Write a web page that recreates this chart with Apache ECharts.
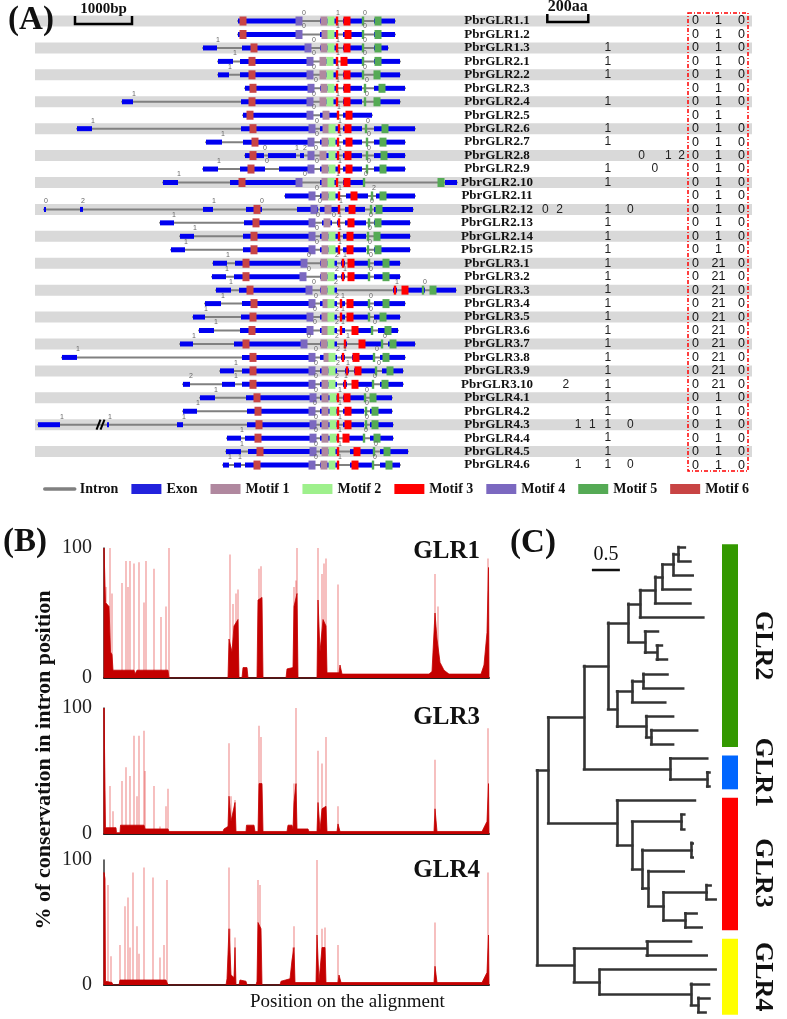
<!DOCTYPE html>
<html><head><meta charset="utf-8">
<script src="https://cdn.jsdelivr.net/npm/echarts@6/dist/echarts.min.js"></script>
<style>html,body{margin:0;padding:0;background:#fff}#c{width:787px;height:1019px}</style>
</head><body><div id="c"></div>
<script>
// ---------------- DATA ----------------
const geneNames = ['PbrGLR1.1','PbrGLR1.2','PbrGLR1.3',
 'PbrGLR2.1','PbrGLR2.2','PbrGLR2.3','PbrGLR2.4','PbrGLR2.5','PbrGLR2.6','PbrGLR2.7','PbrGLR2.8','PbrGLR2.9','PbrGLR2.10','PbrGLR2.11','PbrGLR2.12','PbrGLR2.13','PbrGLR2.14','PbrGLR2.15',
 'PbrGLR3.1','PbrGLR3.2','PbrGLR3.3','PbrGLR3.4','PbrGLR3.5','PbrGLR3.6','PbrGLR3.7','PbrGLR3.8','PbrGLR3.9','PbrGLR3.10',
 'PbrGLR4.1','PbrGLR4.2','PbrGLR4.3','PbrGLR4.4','PbrGLR4.5','PbrGLR4.6'];

// gene structure positions (units: 1000 bp = 57 units)
const geneExons = [
 [[238,302],[320,338],[343,362],[374,395]],
 [[238,302],[320,338],[343,362],[374,395]],
 [[203,217],[242,311],[320,338],[343,362],[374,388]],
 [[218,233],[240,311],[320,338],[342,362],[374,400]],
 [[218,229],[240,311],[320,338],[343,362],[374,400]],
 [[245,312],[320,338],[343,362],[374,405]],
 [[122,133],[241,311],[320,338],[343,362],[374,400]],
 [[243,311],[320,338],[343,372]],
 [[77,92],[241,311],[320,338],[343,362],[374,415]],
 [[206,222],[243,311],[320,338],[343,362],[374,405]],
 [[245,264],[268,296],[300,304],[308,313],[320,338],[343,362],[374,405]],
 [[203,218],[240,265],[279,312],[320,338],[343,362],[374,405]],
 [[163,178],[230,300],[320,338],[343,364],[445,457]],
 [[285,314],[320,338],[346,368],[376,415]],
 [[44,46],[80,83],[203,213],[246,262],[297,318],[320,338],[345,365],[374,413]],
 [[160,174],[244,313],[322,332],[337,340],[345,366],[374,410]],
 [[180,194],[243,313],[320,338],[343,366],[374,410]],
 [[171,185],[243,313],[320,338],[343,366],[374,410]],
 [[213,227],[235,306],[320,337],[341,345],[349,368],[374,400]],
 [[212,226],[234,305],[320,337],[341,345],[349,368],[374,400]],
 [[216,231],[239,308],[320,337],[393,397],[402,425],[430,456]],
 [[205,221],[242,312],[320,337],[341,345],[349,368],[374,405]],
 [[193,205],[241,310],[320,337],[341,345],[349,368],[374,400]],
 [[199,214],[240,310],[320,337],[341,345],[353,372],[378,398]],
 [[180,193],[234,305],[320,337],[344,347],[360,382],[388,415]],
 [[62,77],[242,312],[320,337],[341,345],[352,374],[380,405]],
 [[220,234],[242,313],[320,337],[345,349],[354,376],[382,403]],
 [[183,190],[222,235],[242,310],[320,337],[343,347],[352,373],[380,403]],
 [[200,215],[246,313],[320,338],[343,364],[370,392]],
 [[183,197],[247,312],[320,338],[343,364],[370,392]],
 [[38,60],[107,109],[177,183],[247,313],[320,338],[343,364],[370,393]],
 [[227,241],[245,313],[320,338],[343,364],[370,393]],
 [[226,241],[248,313],[320,338],[350,374],[380,408]],
 [[223,229],[234,241],[245,312],[320,338],[350,373],[380,400]]
];

// motifs: [motif number, centre position, (thin)]
const geneMotifs = [
 [[6,243],[4,299],[1,324],[2,331],[3,337,1],[3,347],[5,363,1],[5,378]],
 [[6,243],[4,299],[1,325],[2,331],[3,337,1],[3,348],[5,363,1],[5,378]],
 [[6,254],[4,308],[1,324],[2,331],[3,337,1],[3,347],[5,363,1],[5,378]],
 [[6,252],[4,310],[1,323],[2,330],[3,337,1],[3,344],[5,363,1],[5,378]],
 [[6,252],[4,310],[1,323],[2,330],[3,337,1],[3,347],[5,363,1],[5,377]],
 [[6,253],[4,311],[1,324],[2,331],[3,337,1],[3,347],[5,365,1],[5,382]],
 [[6,252],[4,310],[1,323],[2,330],[3,337,1],[3,347],[5,365,1],[5,377]],
 [[6,250],[4,310],[1,326],[3,338,1],[3,349]],
 [[6,253],[4,312],[1,326],[2,332],[3,339,1],[3,348],[5,366,1],[5,385]],
 [[6,255],[4,311],[1,325],[2,332],[3,338,1],[3,349],[5,367,1],[5,383]],
 [[6,253],[4,311],[1,323],[2,332],[3,338,1],[3,348],[5,367,1],[5,384]],
 [[6,251],[4,311],[1,325],[2,332],[3,339,1],[3,349],[5,367,1],[5,383]],
 [[6,242],[4,299],[1,325],[2,331],[3,337,1],[3,347],[5,364,1],[5,441]],
 [[4,312],[1,325],[2,332],[3,339,1],[3,354],[5,372,1],[5,383]],
 [[6,257],[4,314],[1,328],[3,339,1],[3,352],[5,371,1],[5,379]],
 [[6,256],[4,312],[1,327],[3,339,1],[3,351],[5,369,1],[5,378]],
 [[6,254],[4,312],[1,325],[2,332],[3,339,1],[3,350],[5,368,1],[5,377]],
 [[6,254],[4,312],[1,325],[2,332],[3,339,1],[3,350],[5,368,1],[5,378]],
 [[6,246],[4,304],[1,324],[2,331],[3,343,1],[3,351],[5,369,1],[5,386]],
 [[6,246],[4,303],[1,324],[2,331],[3,343,1],[3,351],[5,369,1],[5,386]],
 [[6,250],[4,309],[1,324],[2,331],[3,395,1],[3,405],[5,423,1],[5,433]],
 [[6,254],[4,312],[1,326],[2,331],[3,341,1],[3,350],[5,369,1],[5,386]],
 [[6,253],[4,310],[1,325],[2,331],[3,341,1],[3,350],[5,369,1],[5,383]],
 [[6,252],[4,310],[1,325],[2,331],[3,341,1],[3,355],[5,372,1],[5,388]],
 [[6,246],[4,304],[1,324],[2,331],[3,345,1],[3,362],[5,382,1],[5,393]],
 [[6,253],[4,312],[1,327],[2,332],[3,343,1],[3,356],[5,374,1],[5,386]],
 [[6,253],[4,312],[1,325],[2,332],[3,347,1],[3,358],[5,376,1],[5,390]],
 [[6,253],[4,312],[1,325],[2,332],[3,345,1],[3,355],[5,373,1],[5,385]],
 [[6,257],[4,313],[1,325],[2,333],[3,338,1],[3,347],[5,365,1],[5,373]],
 [[6,258],[4,312],[1,325],[2,333],[3,338,1],[3,348],[5,366,1],[5,375]],
 [[6,259],[4,313],[1,325],[2,333],[3,338,1],[3,348],[5,366,1],[5,375]],
 [[6,258],[4,313],[1,325],[2,333],[3,338,1],[3,346],[5,364,1],[5,377]],
 [[6,260],[4,313],[1,325],[2,332],[3,338,1],[3,357],[5,374,1],[5,387]],
 [[6,257],[4,312],[1,324],[2,332],[3,338,1],[3,355],[5,373,1],[5,389]]
];

// intron phases written above the gene models
const geneIntronPhases = [
 [[303,'0'],[337,'1'],[364,'0']],
 [[303,'0'],[337,'1'],[364,'0']],
 [[217,'1'],[313,'0'],[337,'1'],[364,'0']],
 [[234,'1'],[313,'0'],[337,'1'],[364,'0']],
 [[229,'1'],[313,'0'],[337,'1'],[364,'0']],
 [[315,'0'],[337,'1'],[366,'0']],
 [[133,'1'],[313,'0'],[337,'1'],[366,'0']],
 [[313,'0'],[338,'1']],
 [[92,'1'],[316,'0'],[339,'1'],[367,'0']],
 [[222,'1'],[316,'0'],[339,'1'],[368,'0']],
 [[264,'0'],[296,'1'],[304,'2'],[315,'0'],[339,'1'],[368,'0']],
 [[218,'1'],[266,'0'],[316,'0'],[339,'1'],[368,'0']],
 [[178,'1'],[304,'0'],[337,'1'],[365,'0']],
 [[316,'0'],[339,'1'],[373,'2']],
 [[45,'0'],[82,'2'],[213,'1'],[261,'0'],[319,'0'],[340,'1'],[371,'0']],
 [[173,'1'],[317,'0'],[333,'0'],[339,'1'],[370,'0']],
 [[194,'1'],[316,'0'],[339,'1'],[369,'0']],
 [[185,'1'],[316,'0'],[339,'1'],[369,'0']],
 [[227,'1'],[308,'0'],[336,'2'],[344,'1'],[370,'0']],
 [[226,'1'],[308,'0'],[336,'2'],[344,'1'],[370,'0']],
 [[230,'1'],[313,'0'],[335,'2'],[396,'1'],[424,'0']],
 [[222,'1'],[315,'0'],[336,'2'],[342,'1'],[370,'0']],
 [[205,'1'],[314,'0'],[336,'2'],[342,'1'],[370,'0']],
 [[215,'1'],[314,'0'],[336,'2'],[342,'1'],[374,'0']],
 [[193,'1'],[308,'0'],[336,'2'],[347,'1'],[384,'0']],
 [[77,'1'],[315,'0'],[337,'2'],[344,'1'],[376,'0']],
 [[235,'1'],[315,'0'],[337,'2'],[347,'1'],[378,'0']],
 [[190,'2'],[235,'1'],[315,'0'],[336,'2'],[345,'1'],[374,'0']],
 [[215,'1'],[315,'0'],[339,'1'],[366,'0']],
 [[197,'1'],[314,'0'],[339,'1'],[366,'0']],
 [[61,'1'],[109,'1'],[183,'1'],[315,'0'],[339,'1'],[366,'0']],
 [[241,'1'],[315,'0'],[339,'1'],[365,'0']],
 [[241,'1'],[315,'0'],[339,'1'],[375,'0']],
 [[229,'1'],[239,'1'],[315,'0'],[339,'1'],[374,'0']]
];
const geneBreaks = [[30, 101]]; // [row, position] of the "//" symbol

// intron phases aligned on the protein (aa position)
const alignPhases = [
 [],[],[[355,'1']],[[355,'1']],[[355,'1']],[],[[355,'1']],[],[[355,'1']],[[355,'1']],
 [[520,'0'],[650,'1'],[715,'2']],[[355,'1'],[585,'0']],[[355,'1']],[],
 [[50,'0'],[120,'2'],[355,'1'],[465,'0']],[[355,'1']],[[355,'1']],[[355,'1']],
 [[355,'1']],[[355,'1']],[[355,'1']],[[355,'1']],[[355,'1']],[[355,'1']],[[355,'1']],[[355,'1']],[[355,'1']],
 [[150,'2'],[355,'1']],
 [[355,'1']],[[355,'1']],[[210,'1'],[280,'1'],[355,'1'],[465,'0']],[[355,'1']],[[355,'1']],[[210,'1'],[355,'1'],[465,'0']]
];
const boxColumns = ['c1','c2','c3'];
const boxValues = [
 ['0','1','0'],['0','1','0'],['0','1','0'],
 ['0','1','0'],['0','1','0'],['0','1','0'],['0','1','0'],['0','1',''],['0','1','0'],['0','1','0'],['0','1','0'],['0','1','0'],['0','1','0'],['0','1','0'],['0','1','0'],['0','1','0'],['0','1','0'],['0','1','0'],
 ['0','21','0'],['0','21','0'],['0','21','0'],['0','21','0'],['0','21','0'],['0','21','0'],['0','21','0'],['0','21','0'],['0','21','0'],['0','21','0'],
 ['0','1','0'],['0','1','0'],['0','1','0'],['0','1','0'],['0','1','0'],['0','1','0']
];
const legendNames = ['Intron','Exon','Motif 1','Motif 2','Motif 3','Motif 4','Motif 5','Motif 6'];

// Panel B: % conservation along the alignment (position, %)
const glr1Spikes = [[2,70],[6,100],[8,65],[18,73],[22,90],[24,70],[26,90],[30,88],[35,89],[40,58],[42,90],[50,84],[57,47],[62,55],[65,100],[126,95],[129,57],[132,65],[134,68],[155,84],[157,86],[190,70],[192,75],[193,100],[214,100],[218,80],[220,88],[222,92],[234,72],[331,80],[334,55],[384,92]];
const glr1Body = [[0,0],[0,100],[1,100],[1.5,58],[5,55],[6.5,20],[8,18],[9,6],[30,6],[31,3],[33,6],[64,6],[65,0],[124,0],[125,30],[128,20],[130,40],[134,45],[135,0],[138,0],[139,8],[143,8],[144,0],[153,0],[154,60],[158,62],[159,0],[182,0],[183,7],[189,8],[190,55],[193,65],[194,0],[213,0],[214,60],[216,20],[219,45],[222,40],[223,4],[235,4],[236,10],[238,3],[325,3],[328,5],[331,50],[333,30],[336,12],[340,6],[345,3],[377,3],[380,10],[383,35],[384.5,85],[385,0]];
const glr3Spikes = [[0,100],[6,38],[9,18],[18,42],[22,53],[26,46],[30,78],[33,30],[35,78],[40,82],[41,50],[50,38],[56,6],[62,22],[64,36],[125,72],[127,30],[131,27],[155,86],[157,77],[190,40],[192,100],[214,66],[218,56],[222,77],[234,22],[331,59],[384,84]];
const glr3Body = [[0,0],[0,100],[1,100],[1.5,5],[12,5],[12.5,1],[16,1],[16.5,7],[40,7],[41,4],[64,4],[65,2],[119,2],[120,4],[124,6],[125,30],[127,10],[131,25],[132,2],[142,2],[142.5,7],[150,7],[151,2],[154,2],[155,40],[158,40],[159,2],[183,2],[184,7],[188,7],[189,4],[190,25],[192,40],[193,4],[204,4],[205,2],[213,2],[214,25],[216,3],[218,20],[222,22],[223,2],[233,2],[234,8],[236,2],[330,2],[331,20],[333,2],[378,2],[383,10],[384.5,40],[385,0]];
const glr4Spikes = [[0,90],[4,80],[7,23],[16,32],[21,63],[24,70],[26,30],[29,90],[33,47],[35,25],[40,94],[49,86],[56,22],[60,32],[63,84],[125,94],[126,45],[131,38],[154,84],[155,45],[156,80],[189,30],[190,47],[213,100],[218,45],[221,46],[234,32],[331,50],[384,90]];
const glr4Body = [[0,0],[0,90],[1,85],[1.5,3],[8,2],[9,0],[15,0],[16,4],[62,4],[63,2],[64,0],[122,0],[123,5],[125,45],[127,8],[130,6],[131,30],[132,0],[135,0],[136,4],[142,3],[143,0],[152,0],[153,3],[154,50],[157,45],[158,0],[176,0],[177,3],[186,5],[188,20],[190,30],[191,2],[212,2],[213,40],[215,3],[218,30],[221,30],[222,2],[234,2],[235,8],[237,2],[330,2],[331,15],[333,2],[378,2],[383,10],[384.5,40],[385,0]];
const conservationPanels = [['GLR1', glr1Spikes, glr1Body],['GLR3', glr3Spikes, glr3Body],['GLR4', glr4Spikes, glr4Body]];

// Panel C: tree (branch lengths), clades
function N(bl, ...children){ return {bl, children}; }
function L(bl){ return {bl}; }
const tree = N(0,
  N(0.20,
    N(0.64,
      N(0.43,
        N(0.36,
          N(0.21,
            N(0.27,
              N(0.13,
                N(0.20,
                  N(0.09, L(0.11), L(0.21)),
                  L(0.34)),
                L(0.50)),
              L(0.63)),
            L(1.13)),
          N(0.30, L(0.23), N(0.21, L(0.09), L(0.18)))),
        N(0.16,
          N(0.27, N(0.20, L(0.43), L(0.71)), L(0.59)),
          N(0.52, L(0.48), N(0.09, L(0.82), L(0.39))))),
      N(1.54, L(0.66), N(0.66, L(0.04), L(0.04)))),
    N(1.23,
      L(1.39),
      N(0.27,
        N(0.88, L(0.05), L(0.05)),
        N(0.18,
          N(0.88, L(0.02), L(0.02)),
          N(0.11,
            L(0.63),
            N(0.27,
              N(0.77, L(0.07), L(0.16)),
              N(0.39, L(0.20), L(0.29)))))))),
  N(0.66,
    N(1.30, L(0.79), L(1.07)),
    N(0.46, L(2.07), N(1.63, L(0.32), N(0.13, L(0.20), L(0.13))))));
const cladeNames = ['GLR2','GLR1','GLR3','GLR4'];
const cladeRanges = [[0,14],[15,17],[18,27],[28,33]];
const treeScaleLength = 0.5;

// ---------------- STYLE ----------------
const SERIF = '"Liberation Serif","Times New Roman",serif';
const SANS = '"Liberation Sans",Arial,sans-serif';
const motifColors = {1:'#b0889f',2:'#9ef08c',3:'#ff0000',4:'#7b68c0',5:'#55aa55',6:'#c84444'};
const cladeColors = ['#339900','#0066ff','#ff0000','#ffff00'];
const cladeLabelShift = [0, 0, 9, 0];
const EXON_COLOR = '#0000f0';
const INTRON_COLOR = '#808080';
const BP_PER_UNIT = 1000/57;

// ---------------- BUILD ----------------
const chart = echarts.init(document.getElementById('c'), null, {renderer:'canvas'});
const rowData = geneNames.map((n,i)=>[0,i]);

function rectAt(api, i, x0, x1, h, fill){
  const a = api.coord([x0, i]), b = api.coord([x1, i]);
  return {type:'rect', shape:{x:a[0], y:a[1]-h/2, width:Math.max(1, b[0]-a[0]), height:h}, style:{fill}};
}
function motifSeries(k){
  return {
    type:'custom', name:'Motif '+k, xAxisIndex:0, yAxisIndex:0, z:5,
    itemStyle:{color:motifColors[k]}, data:rowData, encode:{x:0,y:1},
    renderItem:(params, api)=>{
      const i = params.dataIndex;
      const children = geneMotifs[i].filter(m=>m[0]===k).map(m=>{
        const w = m[2] ? 1.2 : 3.5;
        return rectAt(api, i, m[1]-w, m[1]+w, 9, motifColors[k]);
      });
      return {type:'group', children};
    }
  };
}

const intronData = [];
geneExons.forEach((ex,i)=>{ intronData.push([ex[0][0], i], [ex[ex.length-1][1], i], ['-', i]); });

let leafCounter = 0;
const treeSegments = [];
function layoutTree(node, parentDepth){
  const depth = parentDepth + node.bl;
  let y;
  if(!node.children){ y = leafCounter++; }
  else {
    const ys = node.children.map(c=>layoutTree(c, depth));
    y = (ys[0]+ys[ys.length-1])/2;
    treeSegments.push({coords:[[depth, ys[0]],[depth, ys[ys.length-1]]]});
  }
  if(node.bl > 0) treeSegments.push({coords:[[parentDepth, y],[depth, y]]});
  return y;
}
layoutTree(tree, 0);

const ROW_TOP = 14.3, ROW_H = 457.5;
const LEAF_TOP = 539.9, LEAF_H = 481.1;
const bGrids = [{top:548,height:130},{top:708,height:126},{top:860,height:125}];

const grid = [
  {left:35, top:ROW_TOP, width:717, height:ROW_H},
  {left:535, top:ROW_TOP, width:149, height:ROW_H},
  {left:684, top:ROW_TOP, width:69, height:ROW_H},
  ...bGrids.map(g=>({left:104, top:g.top, width:385, height:g.height})),
  {left:537, top:LEAF_TOP, width:184.8, height:LEAF_H},
  {left:722, top:LEAF_TOP, width:16, height:LEAF_H}
];
const hiddenVal = (gi,min,max)=>({type:'value', gridIndex:gi, min, max, show:false});
const xAxis = [
  hiddenVal(0,35,752),
  hiddenVal(1,0,727),
  {type:'category', gridIndex:2, data:boxColumns, show:false},
  ...[3,4,5].map(gi=>({type:'value', gridIndex:gi, min:0, max:385, axisLine:{show:true, onZero:false, lineStyle:{color:'#222', width:2}}, axisTick:{show:false}, axisLabel:{show:false}, splitLine:{show:false}})),
  hiddenVal(6,0,3.3),
  hiddenVal(7,0,1)
];
const yAxis = [
  {type:'category', gridIndex:0, data:geneNames, inverse:true, show:false},
  {type:'category', gridIndex:1, data:geneNames, inverse:true, axisLine:{show:false}, axisTick:{show:false},
    axisLabel:{interval:0, align:'center', margin:38, fontFamily:SERIF, fontWeight:'bold', fontSize:13, color:'#111'}},
  {type:'category', gridIndex:2, data:geneNames, inverse:true, show:false},
  ...[3,4,5].map(gi=>({type:'value', gridIndex:gi, min:0, max:100, interval:100, axisLine:{show:true, lineStyle:{color:'#333', width:1.5}}, axisTick:{show:false}, splitLine:{show:false},
    axisLabel:{fontFamily:SERIF, fontSize:20, color:'#222', margin:12}})),
  {type:'value', gridIndex:6, min:-0.5, max:33.5, inverse:true, show:false},
  {type:'value', gridIndex:7, min:-0.5, max:33.5, inverse:true, show:false}
];

const series = [];
// alternating grey bands
series.push({type:'custom', xAxisIndex:0, yAxisIndex:0, z:0, silent:true,
  data:rowData.filter(r=>r[1]%2===0), encode:{x:0,y:1},
  renderItem:(params, api)=>{
    const c = api.coord([35, api.value(1)]);
    const cs = params.coordSys;
    return {type:'rect', shape:{x:cs.x, y:c[1]-5.5, width:cs.width, height:11}, style:{fill:'#d9d9d9'}};
  }});
// introns
series.push({type:'line', name:'Intron', xAxisIndex:0, yAxisIndex:0, z:2, data:intronData, connectNulls:false,
  symbol:'none', showSymbol:false, lineStyle:{color:INTRON_COLOR, width:2, cap:'round'}, itemStyle:{color:INTRON_COLOR}});
// exons
series.push({type:'custom', name:'Exon', xAxisIndex:0, yAxisIndex:0, z:3, itemStyle:{color:'#2222dd'},
  data:rowData, encode:{x:0,y:1},
  renderItem:(params, api)=>{
    const i = params.dataIndex;
    return {type:'group', children: geneExons[i].map(e=>rectAt(api, i, e[0], e[1], 5, EXON_COLOR))};
  }});
for(let k=1;k<=6;k++) series.push(motifSeries(k));
// small intron-phase numbers + break symbols
series.push({type:'custom', xAxisIndex:0, yAxisIndex:0, z:6, silent:true, data:rowData, encode:{x:0,y:1},
  renderItem:(params, api)=>{
    const i = params.dataIndex;
    const children = geneIntronPhases[i].map(p=>{
      const c = api.coord([p[0], i]);
      return {type:'text', x:c[0]+1, y:c[1]-8, style:{text:p[1], font:'7px '+SANS, fill:'#666', align:'center', verticalAlign:'middle', textAlign:'center', textVerticalAlign:'middle'}};
    });
    geneBreaks.filter(b=>b[0]===i).forEach(b=>{
      const c = api.coord([b[1], i]);
      [-2.5, 1.5].forEach(dx=>children.push({type:'line', shape:{x1:c[0]+dx-2, y1:c[1]+5, x2:c[0]+dx+2, y2:c[1]-5}, style:{stroke:'#000', lineWidth:2}}));
    });
    return {type:'group', children};
  }});
// aligned phase numbers
series.push({type:'custom', xAxisIndex:1, yAxisIndex:1, z:6, silent:true, data:rowData, encode:{x:0,y:1},
  renderItem:(params, api)=>{
    const i = params.dataIndex;
    return {type:'group', children: alignPhases[i].map(p=>{
      const c = api.coord([p[0], i]);
      return {type:'text', x:c[0], y:c[1], style:{text:p[1], font:'12px '+SANS, fill:'#222', align:'center', verticalAlign:'middle', textAlign:'center', textVerticalAlign:'middle'}};
    })};
  }});
// boxed numbers
series.push({type:'custom', xAxisIndex:2, yAxisIndex:2, z:6, silent:true, data:rowData, encode:{x:0,y:1},
  renderItem:(params, api)=>{
    const i = params.dataIndex;
    return {type:'group', children: boxValues[i].map((v,j)=>{
      const c = api.coord([j, i]);
      return {type:'text', x:c[0], y:c[1], style:{text:v, font:'12.5px '+SANS, fill:'#111', align:'center', verticalAlign:'middle', textAlign:'center', textVerticalAlign:'middle'}};
    })};
  }});
// panel B
conservationPanels.forEach((p, k)=>{
  series.push({type:'custom', xAxisIndex:3+k, yAxisIndex:3+k, z:2, silent:true, data:p[1], encode:{x:0,y:1},
    renderItem:(params, api)=>{
      const a = api.coord([api.value(0), 0]), b = api.coord([api.value(0), api.value(1)]);
      return {type:'line', shape:{x1:a[0], y1:a[1], x2:b[0], y2:b[1]}, style:{stroke:'rgba(225,40,40,0.42)', lineWidth:1.4}};
    }});
  series.push({type:'line', xAxisIndex:3+k, yAxisIndex:3+k, z:3, silent:true, data:p[2], symbol:'none',
    lineStyle:{color:'#c40000', width:0.8}, areaStyle:{color:'#c40000', opacity:1}});
});
// panel C tree
series.push({type:'lines', coordinateSystem:'cartesian2d', xAxisIndex:6, yAxisIndex:6, z:3, silent:true,
  data:treeSegments, lineStyle:{color:'#333', width:2.6, opacity:1, cap:'square', curveness:0}});
series.push({type:'custom', xAxisIndex:7, yAxisIndex:7, z:3, silent:true, data:cladeRanges, encode:{x:0,y:1},
  renderItem:(params, api)=>{
    const r = cladeRanges[params.dataIndex];
    const a = api.coord([0, r[0]-0.2]), b = api.coord([1, r[1]+0.2]);
    return {type:'group', children:[
      {type:'rect', shape:{x:a[0], y:a[1], width:b[0]-a[0], height:b[1]-a[1]}, style:{fill:cladeColors[params.dataIndex]}},
      {type:'text', x:b[0]+25, y:(a[1]+b[1])/2 + cladeLabelShift[params.dataIndex], rotation:-Math.PI/2,
        style:{text:cladeNames[params.dataIndex], font:'bold 26px '+SERIF, fill:'#111', align:'center', verticalAlign:'middle', textAlign:'center', textVerticalAlign:'middle'}}
    ]};
  }});

chart.setOption({
  animation:false,
  backgroundColor:'#fff',
  grid, xAxis, yAxis, series,
  legend:{data: legendNames.map(n=> n==='Intron' ? {name:n, itemStyle:{opacity:0}, lineStyle:{width:3.5, color:INTRON_COLOR, cap:'round'}} : {name:n, icon:'rect'}),
    left:38, top:477, itemWidth:30, itemHeight:10, itemGap:13, selectedMode:false,
    textStyle:{fontFamily:SERIF, fontWeight:'bold', fontSize:14, color:'#111'}}
});

// decorations positioned through the axes
const px = (axisIdx, v)=>chart.convertToPixel({xAxisIndex:axisIdx}, v);
const bp0 = px(0, 75), bp1 = px(0, 75 + 1000/BP_PER_UNIT);
const aa0 = px(1, 60), aa1 = px(1, 260);
const t0 = px(6, 0.98), t1 = px(6, 0.98 + treeScaleLength);
const txt = (x,y,text,font,align,extra)=>Object.assign({type:'text', x, y, style:{text, font, fill:'#111', align:align||'center', verticalAlign:'middle', textAlign:align||'center', textVerticalAlign:'middle'}}, extra||{});
const bracket = (x0,x1,yTop,yBot)=>({type:'polyline', shape:{points:[[x0,yTop],[x0,yBot],[x1,yBot],[x1,yTop]]}, style:{stroke:'#000', lineWidth:2.5, fill:null}});
chart.setOption({graphic:[
  txt(31,20,'(A)','bold 33px '+SERIF),
  txt(25,542,'(B)','bold 33px '+SERIF),
  txt(533,543,'(C)','bold 33px '+SERIF),
  txt((bp0+bp1)/2, 9, '1000bp', 'bold 15px '+SERIF),
  bracket(bp0, bp1, 16, 24),
  txt((aa0+aa1)/2, 7, '200aa', 'bold 16px '+SERIF),
  bracket(aa0, aa1, 14, 22),
  {type:'rect', shape:{x:688, y:13, width:60, height:458}, style:{fill:'transparent', stroke:'#ff0000', lineWidth:1.5, lineDash:[4,2,1,2]}},
  txt(44, 760, '% of conservation in intron position', 'bold 22px '+SERIF, 'center', {rotation:Math.PI/2}),
  txt(250, 1002, 'Position on the alignment', '19px '+SERIF, 'left'),
  txt(480, 552, 'GLR1', 'bold 25px '+SERIF, 'right'),
  txt(480, 718, 'GLR3', 'bold 25px '+SERIF, 'right'),
  txt(480, 871, 'GLR4', 'bold 25px '+SERIF, 'right'),
  txt((t0+t1)/2, 555, '0.5', '20px '+SERIF),
  {type:'line', shape:{x1:t0, y1:570, x2:t1, y2:570}, style:{stroke:'#111', lineWidth:2.5}}
]});
</script>
</body></html>
